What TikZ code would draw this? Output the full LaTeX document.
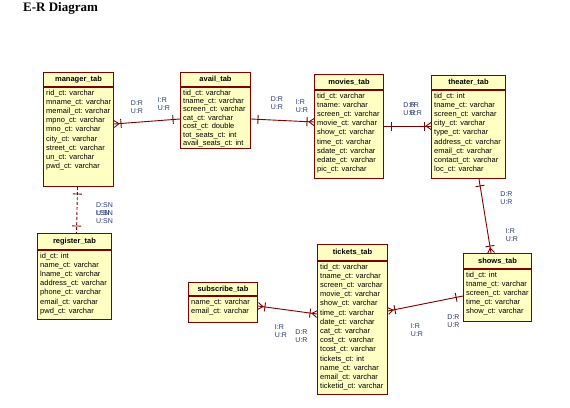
\documentclass[tikz,border=0pt]{standalone}
\usepackage{fontspec}
\setmainfont{Liberation Sans}
\newfontfamily\titlefont{Liberation Serif}
\usetikzlibrary{decorations.markings}
\definecolor{erred}{RGB}{128,0,0}
\definecolor{erfill}{RGB}{255,255,196}
\definecolor{erlabel}{RGB}{40,55,120}
\tikzset{
  tabhead/.style={draw=erred, fill=erfill, line width=1pt, anchor=north west, inner sep=0pt,
    font=\fontsize{7.5}{9}\selectfont\bfseries},
  tabbody/.style={draw=erred, fill=erfill, line width=1pt, anchor=north west, inner sep=0pt},
  tabtext/.style={anchor=north west, align=left, inner xsep=3pt, inner ysep=2.5pt,
    font=\fontsize{7.5}{9.2}\selectfont},
  rel/.style={color=erred, line width=0.9pt},
  card/.style={text=erlabel, align=left, inner sep=0pt, font=\fontsize{7}{8}\selectfont},
  onestart/.style={postaction={decorate, decoration={markings,
    mark=at position 7pt with {\draw[solid] (0pt,-4.5pt) -- (0pt,4.5pt);}}}},
  oneend/.style={postaction={decorate, decoration={markings,
    mark=at position -7pt with {\draw[solid] (0pt,-4.5pt) -- (0pt,4.5pt);}}}},
  manystart/.style={onestart, postaction={decorate, decoration={markings,
    mark=at position 0 with {\draw[solid] (0pt,-3.5pt) -- (5pt,0pt) -- (0pt,3.5pt);}}}},
  manyend/.style={oneend, postaction={decorate, decoration={markings,
    mark=at position 1 with {\draw[solid] (0pt,-3.5pt) -- (-5pt,0pt) -- (0pt,3.5pt);}}}}
}
\begin{document}
\begin{tikzpicture}[x=1pt, y=-1pt]
\useasboundingbox[fill=white] (0,0) rectangle (570,407);
\node[anchor=west, inner sep=0pt, font=\titlefont\fontsize{13}{15}\selectfont\bfseries] (title) at (23,8) {E-R Diagram};
% tables
\node[tabhead, minimum width=70pt, minimum height=14pt] (manager) at (43,72) {manager\_tab};
\node[tabbody, minimum width=70pt, minimum height=99pt] (managerf) at (manager.south west) {};
\node[tabtext] (managert) at (managerf.north west) {rid\_ct: varchar\\mname\_ct: varchar\\memail\_ct: varchar\\mpno\_ct: varchar\\mno\_ct: varchar\\city\_ct: varchar\\street\_ct: varchar\\un\_ct: varchar\\pwd\_ct: varchar};

\node[tabhead, minimum width=70pt, minimum height=14pt] (avail) at (180,72) {avail\_tab};
\node[tabbody, minimum width=70pt, minimum height=61pt] (availf) at (avail.south west) {};
\node[tabtext, font=\fontsize{7.5}{8.4}\selectfont] (availt) at (availf.north west) {tid\_ct: varchar\\tname\_ct: varchar\\screen\_ct: varchar\\cat\_ct: varchar\\cost\_ct: double\\tot\_seats\_ct: int\\avail\_seats\_ct: int};

\node[tabhead, minimum width=69pt, minimum height=15pt] (movies) at (314,74) {movies\_tab};
\node[tabbody, minimum width=69pt, minimum height=88pt] (moviesf) at (movies.south west) {};
\node[tabtext] (moviest) at (moviesf.north west) {tid\_ct: varchar\\tname: varchar\\screen\_ct: varchar\\movie\_ct: varchar\\show\_ct: varchar\\time\_ct: varchar\\sdate\_ct: varchar\\edate\_ct: varchar\\pic\_ct: varchar};

\node[tabhead, minimum width=74pt, minimum height=14pt] (theater) at (431,75) {theater\_tab};
\node[tabbody, minimum width=74pt, minimum height=88pt] (theaterf) at (theater.south west) {};
\node[tabtext] (theatert) at (theaterf.north west) {tid\_ct: int\\tname\_ct: varchar\\screen\_ct: varchar\\city\_ct: varchar\\type\_ct: varchar\\address\_ct: varchar\\email\_ct: varchar\\contact\_ct: varchar\\loc\_ct: varchar};

\node[tabhead, minimum width=74pt, minimum height=16pt] (register) at (37,233) {register\_tab};
\node[tabbody, minimum width=74pt, minimum height=69pt] (registerf) at (register.south west) {};
\node[tabtext] (registert) at (registerf.north west) {id\_ct: int\\name\_ct: varchar\\lname\_ct: varchar\\address\_ct: varchar\\phone\_ct: varchar\\email\_ct: varchar\\pwd\_ct: varchar};

\node[tabhead, minimum width=69pt, minimum height=13pt] (subscribe) at (188,282) {subscribe\_tab};
\node[tabbody, minimum width=69pt, minimum height=26pt] (subscribef) at (subscribe.south west) {};
\node[tabtext] (subscribet) at (subscribef.north west) {name\_ct: varchar\\email\_ct: varchar};

\node[tabhead, minimum width=70pt, minimum height=16pt] (tickets) at (317,244) {tickets\_tab};
\node[tabbody, minimum width=70pt, minimum height=133pt] (ticketsf) at (tickets.south west) {};
\node[tabtext] (ticketst) at (ticketsf.north west) {tid\_ct: varchar\\tname\_ct: varchar\\screen\_ct: varchar\\movie\_ct: varchar\\show\_ct: varchar\\time\_ct: varchar\\date\_ct: varchar\\cat\_ct: varchar\\cost\_ct: varchar\\tcost\_ct: varchar\\tickets\_ct: int\\name\_ct: varchar\\email\_ct: varchar\\ticketid\_ct: varchar};

\node[tabhead, minimum width=68pt, minimum height=15pt] (shows) at (463,253) {shows\_tab};
\node[tabbody, minimum width=68pt, minimum height=52pt] (showsf) at (shows.south west) {};
\node[tabtext] (showst) at (showsf.north west) {tid\_ct: int\\tname\_ct: varchar\\screen\_ct: varchar\\time\_ct: varchar\\show\_ct: varchar};
% relationships
\draw[rel, manystart, oneend] ([yshift=-37pt]managerf.north east) -- ([yshift=-32pt]availf.north west);
\draw[rel, onestart, manyend] ([yshift=-32pt]availf.north east) -- ([yshift=-32pt]moviesf.north west);
\draw[rel, onestart, manyend] ([yshift=-36pt]moviesf.north east) -- ([yshift=-36pt]theaterf.north west);
\draw[rel, onestart, manyend] ([xshift=48pt]theaterf.south west) -- ([xshift=28pt]shows.north west);
\draw[rel, manystart, oneend] ([yshift=-50pt]ticketsf.north east) -- ([yshift=-27pt]showsf.north west);
\draw[rel, manystart, manyend] ([yshift=-10pt]subscribef.north east) -- ([yshift=-53pt]ticketsf.north west);
\draw[rel, dash pattern=on 3pt off 2pt, onestart, oneend] ([xshift=-1pt]managerf.south) -- ([xshift=2pt]register.north);
% cardinality labels
\node[card] (ma1) at (137,107) {D:R\\U:R};
\node[card] (ma2) at (164,104) {I:R\\U:R};
\node[card] (am1) at (277,103) {D:R\\U:R};
\node[card] (am2) at (302,106) {I:R\\U:R};
\node[card] (mt1) at (409.5,109.5) {D:R\\U:R};
\node[card] (mt2) at (416,109.5) {I:R\\U:R};
\node[card] (ts1) at (506.5,198) {D:R\\U:R};
\node[card] (ts2) at (512,235) {I:R\\U:R};
\node[card] (tk1) at (417,330) {I:R\\U:R};
\node[card] (tk2) at (453.5,321.5) {D:R\\U:R};
\node[card] (st1) at (281,331.5) {I:R\\U:R};
\node[card] (st2) at (301.5,336) {D:R\\U:R};
\node[card] (mr1) at (104.5,209) {D:SN\\U:SN};
\node[card] (mr2) at (104.5,217.5) {I:SN\\U:SN};
\end{tikzpicture}
\end{document}
